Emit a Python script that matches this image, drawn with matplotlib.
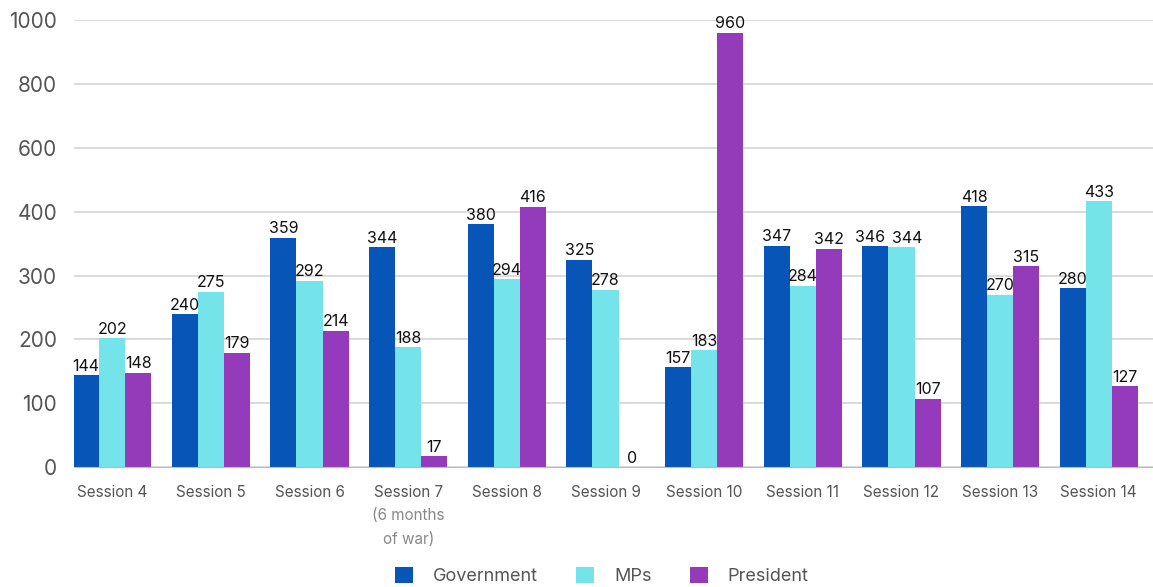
import numpy as np
import matplotlib.pyplot as plt

plt.rcParams['font.family'] = ['Inter', 'DejaVu Sans']

sessions = ['Session 4', 'Session 5', 'Session 6', 'Session 7', 'Session 8', 'Session 9',
            'Session 10', 'Session 11', 'Session 12', 'Session 13', 'Session 14']
government = [144, 240, 359, 344, 380, 325, 157, 347, 346, 418, 280]
mps = [202, 275, 292, 188, 294, 278, 183, 284, 344, 270, 433]
president = [148, 179, 214, 17, 416, 0, 960, 342, 107, 315, 127]
y_ticks = [0, 100, 200, 300, 400, 600, 800, 1000]

series = [('Government', government, '#0755B7'),
          ('MPs', mps, '#74E3EA'),
          ('President', president, '#933BBB')]


# axis is linear up to 400, then half as steep
def fwd(y):
    y = np.asarray(y, dtype=float)
    return np.where(y <= 400, y, 400 + (y - 400) / 2)


def inv(t):
    t = np.asarray(t, dtype=float)
    return np.where(t <= 400, t, 400 + (t - 400) * 2)


fig = plt.figure(figsize=(11.53, 5.87), dpi=100)
ax = fig.add_axes([0.064, 0.204, 0.936, 0.762])
ax.set_yscale('function', functions=(fwd, inv))

x = np.arange(len(sessions))
w = 0.265
all_vals = [s[1] for s in series]
for i, (name, vals, col) in enumerate(series):
    pos = x + (i - 1) * w
    ax.bar(pos, vals, width=w, color=col, label=name, zorder=2)
    for j, (p, v) in enumerate(zip(pos, vals)):
        # nudge labels apart when a neighbouring bar has almost the same height
        dx = 0
        if i > 0 and abs(all_vals[i - 1][j] - v) < 12:
            dx += 4
        if i < 2 and abs(all_vals[i + 1][j] - v) < 12:
            dx -= 4
        ax.annotate(str(v), (p, v), xytext=(dx, 1), textcoords='offset points',
                    ha='center', va='bottom', fontsize=11.5, color='#111111')

ax.set_ylim(0, 1000)
ax.set_xlim(-0.39, 10.55)
ax.set_yticks(y_ticks)
ax.set_yticklabels([str(t) for t in y_ticks], fontsize=15, color='#555555')
ax.set_xticks(x)
ax.set_xticklabels(sessions, fontsize=11, color='#555555')
ax.tick_params(axis='both', length=0)
ax.tick_params(axis='y', pad=12)
ax.tick_params(axis='x', pad=13)
ax.grid(axis='y', color='#d4d4d4', linewidth=1.2, zorder=0)
for s in ['top', 'right', 'left']:
    ax.spines[s].set_visible(False)
ax.spines['bottom'].set_color('#bbbbbb')
ax.spines['bottom'].set_zorder(3)

ax.text(3, -0.09, '(6 months\nof war)', transform=ax.get_xaxis_transform(),
        ha='center', va='top', fontsize=11, color='#888888', linespacing=1.75)

leg = fig.legend(loc='lower center', bbox_to_anchor=(0.522, -0.025), ncol=3, frameon=False,
                 fontsize=13, handlelength=1.0, handleheight=1.0, columnspacing=2.1,
                 handletextpad=1.1)
for t in leg.get_texts():
    t.set_color('#555555')

fig.savefig('out.png', dpi=100)
